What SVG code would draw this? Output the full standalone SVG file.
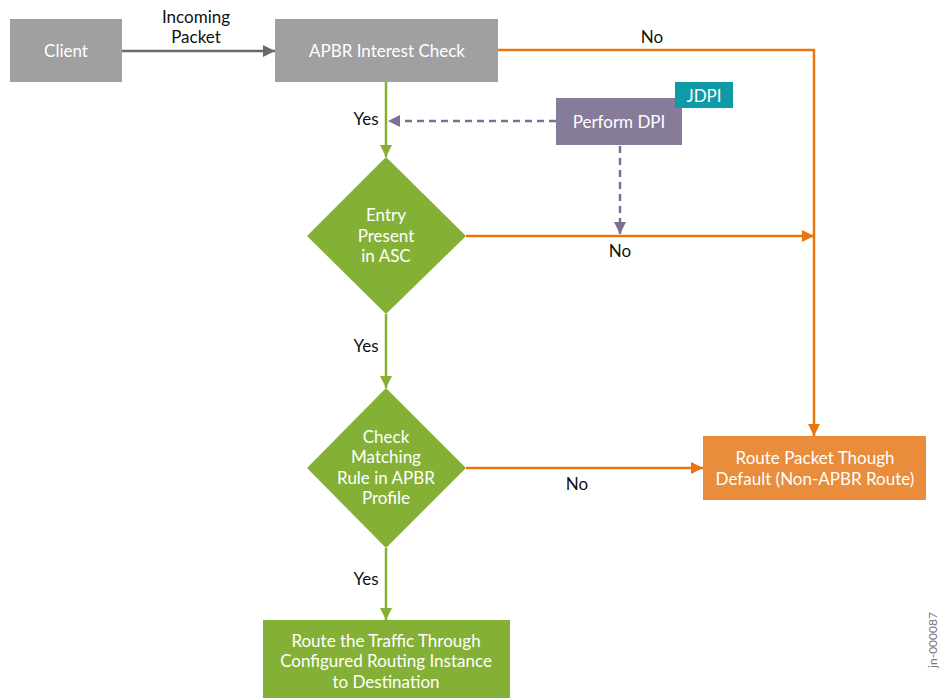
<svg xmlns="http://www.w3.org/2000/svg" width="941" height="698" viewBox="0 0 941 698">
<style>
text{font-family:Lato,"Open Sans","Liberation Sans",sans-serif;font-size:17px}
.w{fill:#ffffff}
.k{fill:#111111}
.c{text-anchor:middle}
.ln{fill:none;stroke-width:2.5}
</style>
<defs>
<marker id="ag" markerWidth="12" markerHeight="12" refX="10" refY="5" orient="auto" markerUnits="userSpaceOnUse" viewBox="0 0 10 10"><path d="M0,0 L10,5 L0,10 z" fill="#6b6b6b"/></marker>
<marker id="agr" markerWidth="12" markerHeight="12" refX="10" refY="5" orient="auto" markerUnits="userSpaceOnUse" viewBox="0 0 10 10"><path d="M0,0 L10,5 L0,10 z" fill="#84b135"/></marker>
<marker id="ao" markerWidth="12" markerHeight="12" refX="10" refY="5" orient="auto" markerUnits="userSpaceOnUse" viewBox="0 0 10 10"><path d="M0,0 L10,5 L0,10 z" fill="#e8760c"/></marker>
<marker id="ap" markerWidth="12" markerHeight="12" refX="10" refY="5" orient="auto" markerUnits="userSpaceOnUse" viewBox="0 0 10 10"><path d="M0,0 L10,5 L0,10 z" fill="#7b6f92"/></marker>
</defs>
<rect width="941" height="698" fill="#ffffff"/>
<g id="connectors">
<path class="ln" d="M122,51 H275" stroke="#6b6b6b" marker-end="url(#ag)"/>
<path class="ln" d="M386,82 V157" stroke="#84b135" marker-end="url(#agr)"/>
<path class="ln" d="M386,314 V388" stroke="#84b135" marker-end="url(#agr)"/>
<path class="ln" d="M386,548 V620" stroke="#84b135" marker-end="url(#agr)"/>
<path class="ln" d="M498,50 H814 V436" stroke="#e8760c" marker-end="url(#ao)"/>
<path class="ln" d="M466,236 H814" stroke="#e8760c" marker-end="url(#ao)"/>
<path class="ln" d="M466,468 H703" stroke="#e8760c" marker-end="url(#ao)"/>
<path class="ln" d="M556,121 H388" stroke="#7b6f92" stroke-dasharray="7,5" marker-end="url(#ap)"/>
<path class="ln" d="M620,146 V234" stroke="#7b6f92" stroke-dasharray="7,5" marker-end="url(#ap)"/>
<text class="k c" x="196" y="23">Incoming</text>
<text class="k c" x="196" y="43">Packet</text>
<text class="k c" x="652" y="43">No</text>
<text class="k c" x="366" y="125">Yes</text>
<text class="k c" x="620" y="257">No</text>
<text class="k c" x="366" y="352">Yes</text>
<text class="k c" x="577" y="490">No</text>
<text class="k c" x="366" y="585">Yes</text>
</g>
<g id="client">
<rect x="10" y="19" width="112" height="63" fill="#a0a0a0"/>
<text class="w c" x="66" y="57">Client</text>
</g>
<g id="apbr">
<rect x="275" y="19" width="223" height="63" fill="#a0a0a0"/>
<text class="w c" x="387" y="57">APBR Interest Check</text>
</g>
<g id="dpi">
<rect x="556" y="98" width="126" height="47" fill="#877b9a"/>
<text class="w c" x="619" y="128">Perform DPI</text>
</g>
<g id="jdpi">
<rect x="675" y="82" width="58" height="26" fill="#0e9aa6"/>
<text class="w c" x="704" y="102">JDPI</text>
</g>
<g id="entry">
<polygon points="386,157 466,236 386,314 307,236" fill="#84b135"/>
<text class="w c" x="386" y="221">Entry</text>
<text class="w c" x="386" y="242">Present</text>
<text class="w c" x="386" y="262">in ASC</text>
</g>
<g id="check">
<polygon points="386,388 466,468 386,548 307,468" fill="#84b135"/>
<text class="w c" x="386" y="443">Check</text>
<text class="w c" x="386" y="463">Matching</text>
<text class="w c" x="386" y="484">Rule in APBR</text>
<text class="w c" x="386" y="504">Profile</text>
</g>
<g id="default">
<rect x="703" y="436" width="223" height="64" fill="#e98c3b"/>
<text class="w c" x="815" y="464">Route Packet Though</text>
<text class="w c" x="815" y="485">Default (Non-APBR Route)</text>
</g>
<g id="route">
<rect x="263" y="620" width="247" height="78" fill="#84b135"/>
<text class="w c" x="386" y="647">Route the Traffic Through</text>
<text class="w c" x="386" y="667">Configured Routing Instance</text>
<text class="w c" x="386" y="688">to Destination</text>
</g>
<text x="937" y="640" transform="rotate(-90 937 640)" class="c" style="font-size:12px;fill:#777777">jn-000087</text>
</svg>
